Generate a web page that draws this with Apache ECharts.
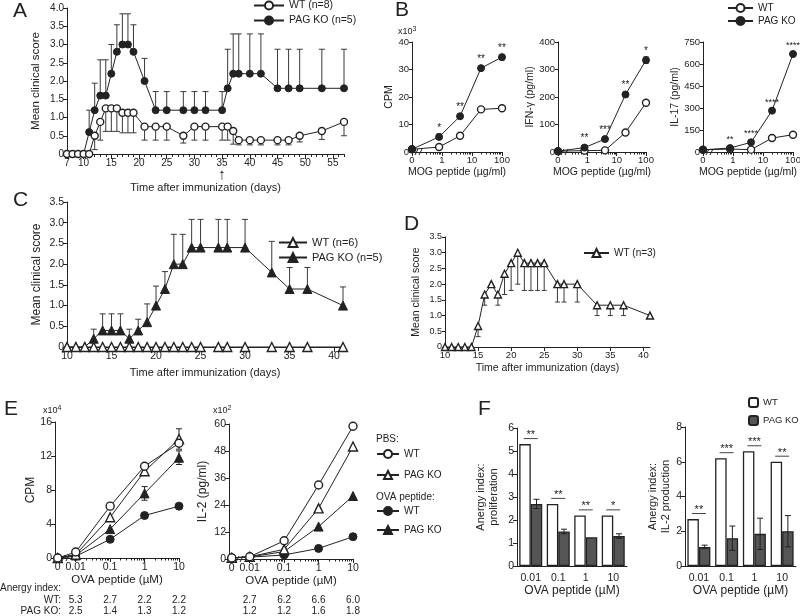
<!DOCTYPE html>
<html><head><meta charset="utf-8">
<script src="https://cdn.jsdelivr.net/npm/echarts@6/dist/echarts.min.js"></script>
<style>html,body{margin:0;padding:0;background:#fff}#c{width:800px;height:616px}</style>
</head><body><div id="c"></div><script>
// ================= DATA =================
// Panel A – EAE clinical score
const aDays = [7,8,9,10,11,12,13,14,15,16,17,18,19,21,23,25,28,30,32,35,36,37,38,40,42,45,47,49,53,57];
const aWT     = [0,0,0,0,0,0.5,0.88,1.25,1.25,1.25,1.13,1.13,1.13,0.75,0.75,0.75,0.5,0.75,0.75,0.75,0.75,0.63,0.38,0.38,0.38,0.38,0.38,0.5,0.63,0.88];
const aWTLow  = [null,null,null,null,null,0.12,0.38,0.62,0.62,0.62,0.58,0.58,0.58,0.38,0.38,0.38,0.3,0.38,0.38,0.38,0.38,0.27,0.25,0.25,0.25,0.25,0.25,0.33,0.4,0.5];
const aKO     = [0,0,0,0,0.6,1.2,1.6,1.6,2.2,2.8,3.0,3.0,2.8,2.0,1.2,1.2,1.2,1.2,1.2,1.2,1.8,2.2,2.2,2.2,2.2,1.8,1.8,1.8,1.8,1.8];
const aKOHigh = [null,null,null,null,1.2,1.94,2.58,2.58,3.0,3.54,3.84,3.84,3.54,2.62,1.71,1.71,1.71,1.71,1.71,1.71,2.87,3.29,3.29,3.29,3.29,2.87,2.87,2.87,2.87,2.87];
const aTickLabels = [7,10,15,20,25,30,35,40,45,50,55];

// Panel B – recall responses to MOG peptide
const mogDose = [0, 0.8, 4, 20, 100];
const cpmWT = [1.0, 1.8, 5.9, 15.5, 15.9];
const cpmKO = [1.0, 5.5, 13.0, 30.5, 34.5];
const cpmKOSem = [0, 1.0, 0.5, 0.6, 1.0];
const cpmStars = ['', '*', '**', '**', '**'];
const ifnWT = [3, 5, 6, 71, 179];
const ifnKO = [3, 16, 47, 209, 334];
const ifnKOSem = [0, 3, 4, 6, 12];
const ifnStars = ['', '**', '***', '**', '*'];
const il17WT = [15, 20, 16, 95, 118];
const il17KO = [15, 27, 66, 282, 668];
const il17KOSem = [0, 4, 5, 8, 10];
const il17Stars = ['', '**', '****', '****', '****'];
const mogTickLabels = [0, 1, 10, 100];

// Panel C
const cDays = [10,11,12,13,14,15,16,17,18,19,20,21,22,23,24,25,27,28,30,33,35,37,41];
const cWT   = [0,0,0,0,0,0,0,0,0,0,0,0,0,0,0,0,0,0,0,0,0,0,0];
const cKO   = [0,0,0,0.2,0.4,0.4,0.4,0.2,0.4,0.6,1.0,1.4,2.0,2.0,2.4,2.4,2.4,2.4,2.4,1.8,1.4,1.4,1.0];
const cKOHigh = [null,null,null,0.43,0.8,0.8,0.8,0.43,0.67,1.04,1.47,1.82,2.72,2.72,3.08,3.08,3.08,3.08,3.08,2.55,1.92,1.92,1.45];
const cdTickLabels = [10,15,20,25,30,35,40];

// Panel D
const dDays = [10,11,12,13,14,15,16,17,18,19,20,21,22,23,24,25,27,28,30,33,35,37,41];
const dWT   = [0,0,0,0,0,0.67,1.67,2.0,1.67,2.33,2.67,3.0,2.67,2.67,2.67,2.67,2.0,2.0,2.0,1.33,1.33,1.33,1.0];
const dWTLow = [null,null,null,null,null,0.33,1.33,null,1.33,1.67,1.8,2.0,1.8,1.8,1.8,1.8,1.43,1.43,1.43,1.0,1.0,1.0,null];

// Panel E – OVA recall
const ovaDose = [0, 0.01, 0.1, 1, 10];
const eCpmPbsWT = [0, 0.7, 6.1, 10.8, 13.5];
const eCpmPbsKO = [0, 0.4, 4.8, 10.2, 14.0];
const eCpmOvaWT = [0, 0.2, 2.2, 5.0, 6.1];
const eCpmOvaKO = [0, 0.3, 3.4, 7.6, 11.8];
const eCpmPbsKOSem = [0, 0, 0, 0, 1.2];
const eCpmOvaKOSem = [0, 0, 0, 0.8, 0.8];
const eIl2PbsWT = [0.5, 1.0, 8.1, 32.9, 59.0];
const eIl2PbsKO = [0.5, 1.0, 4.3, 22.5, 50.0];
const eIl2OvaWT = [0.5, 0.8, 1.8, 4.7, 9.9];
const eIl2OvaKO = [0.5, 0.9, 3.3, 14.4, 28.0];
const ovaTickLabels = [0, 0.01, 0.1, 1, 10];
const anergyProlWT = [5.3, 2.7, 2.2, 2.2];
const anergyProlKO = [2.5, 1.4, 1.3, 1.2];
const anergyIl2WT  = [2.7, 6.2, 6.6, 6.0];
const anergyIl2KO  = [1.2, 1.2, 1.6, 1.8];

// Panel F – anergy indices
const fCats = ['0.01', '0.1', '1', '10'];
const fProlWT = [5.3, 2.7, 2.2, 2.2];
const fProlKO = [2.7, 1.5, 1.25, 1.3];
const fProlKOSem = [0.2, 0.1, 0, 0.1];
const fProlSig = ['**', '**', '**', '*'];
const fIl2WT = [2.7, 6.2, 6.6, 6.0];
const fIl2KO = [1.1, 1.6, 1.85, 2.0];
const fIl2KOSem = [0.1, 0.7, 0.9, 0.9];
const fIl2Sig = ['**', '***', '***', '**'];

// ================= STYLE / LAYOUT =================
const FONT = '"Liberation Sans", Arial, Helvetica, sans-serif';
const INK = '#222';
const ERR = '#3a3a3a';
const GRAYBAR = '#555';
const G = {
  A:  {left:67,  top:8,   width:277, height:146},
  B1: {left:412, top:42,  width:90,  height:110},
  B2: {left:558, top:42,  width:88,  height:110},
  B3: {left:703, top:42,  width:90,  height:110},
  C:  {left:67,  top:202, width:276, height:145},
  D:  {left:445, top:237, width:205, height:110},
  E1: {left:55,  top:422, width:124, height:136},
  E2: {left:229, top:424, width:124, height:135},
  F1: {left:517, top:428, width:110, height:138},
  F2: {left:685, top:427, width:111, height:139}
};
const B_ZERO = 0.1, E_ZERO = 0.003, E_MIN = 0.0025;
const LN = {aWT:'WT (n=8)', aKO:'PAG KO (n=5)', bWT:'WT', bKO:'PAG KO', cWT:'WT (n=6)', cKO:'PAG KO (n=5)',
  dWT:'WT (n=3)', ePbsWT:'WT', ePbsKO:'PAG KO', eOvaWT:'WT', eOvaKO:'PAG KO', fWT:'WT', fKO:'PAG KO'};

const option = {animation:false, backgroundColor:'#ffffff', textStyle:{fontFamily:FONT, color:INK},
  grid:[], xAxis:[], yAxis:[], series:[], legend:[], graphic:[]};

const AX = {show:true, onZero:false, lineStyle:{color:INK, width:1}};
const lbl = (fs, extra) => Object.assign({show:true, color:INK, fontFamily:FONT, fontSize:fs, margin:3, showMinLabel:true, showMaxLabel:true, hideOverlap:false}, extra || {});
const tick = (len, extra) => Object.assign({show:true, length:len, inside:false, lineStyle:{color:INK, width:1}}, extra || {});
const nst = (fs, extra) => Object.assign({color:INK, fontFamily:FONT, fontSize:fs}, extra || {});
const fmt1 = v => (Math.abs(v) < 1e-9 ? '0' : v.toFixed(1));
function addGrid(g) { option.grid.push(Object.assign({outerBoundsMode:'none', containLabel:false, show:false}, g)); return option.grid.length - 1; }
function addX(o) { option.xAxis.push(Object.assign({position:'bottom', offset:0, splitLine:{show:false}, splitArea:{show:false}}, o)); return option.xAxis.length - 1; }
function addY(o) { option.yAxis.push(Object.assign({position:'left', offset:0, splitLine:{show:false}, splitArea:{show:false}}, o)); return option.yAxis.length - 1; }

const openSym = {color:'#fff', borderColor:INK, borderWidth:1.4};
const fillSym = {color:INK, borderColor:INK, borderWidth:1};
function lineS(name, xi, yi, pts, symbol, size, filled, extra) {
  return Object.assign({type:'line', name, xAxisIndex:xi, yAxisIndex:yi, data:pts, symbol, symbolSize:size,
    showAllSymbol:true, lineStyle:{color:INK, width:1}, itemStyle: filled ? fillSym : openSym,
    emphasis:{disabled:true}, z:4}, extra || {});
}
// one-sided error bar: from value to end (cap at end)
function errOne(xi, yi, xs, ys, ends, cap, offsetPx) {
  const data = [];
  xs.forEach((x, i) => { if (ends[i] !== null && ends[i] !== undefined) data.push([x, ys[i], ends[i]]); });
  return {type:'custom', xAxisIndex:xi, yAxisIndex:yi, data, silent:true, z:2,
    renderItem: (p, api) => {
      const a = api.coord([api.value(0), api.value(1)]), b = api.coord([api.value(0), api.value(2)]);
      const ox = offsetPx || 0, st = {stroke:ERR, lineWidth:1};
      return {type:'group', children:[
        {type:'line', shape:{x1:a[0]+ox, y1:a[1], x2:b[0]+ox, y2:b[1]}, style:st},
        {type:'line', shape:{x1:b[0]+ox-cap, y1:b[1], x2:b[0]+ox+cap, y2:b[1]}, style:st}]};
    }};
}
// two-sided SEM bars
function errTwo(xi, yi, xs, ys, sem, cap, offsetPx, z) {
  const data = [];
  xs.forEach((x, i) => { if (sem[i] > 0) data.push([x, ys[i] - sem[i], ys[i] + sem[i]]); });
  return {type:'custom', xAxisIndex:xi, yAxisIndex:yi, data, silent:true, z: z || 2,
    renderItem: (p, api) => {
      const a = api.coord([api.value(0), api.value(1)]), b = api.coord([api.value(0), api.value(2)]);
      const ox = offsetPx || 0, st = {stroke:INK, lineWidth:1};
      return {type:'group', children:[
        {type:'line', shape:{x1:a[0]+ox, y1:a[1], x2:b[0]+ox, y2:b[1]}, style:st},
        {type:'line', shape:{x1:a[0]+ox-cap, y1:a[1], x2:a[0]+ox+cap, y2:a[1]}, style:st},
        {type:'line', shape:{x1:b[0]+ox-cap, y1:b[1], x2:b[0]+ox+cap, y2:b[1]}, style:st}]};
    }};
}
function legendV(data, left, top, gap, iw, ih, fs) {
  option.legend.push({data, left, top, orient:'vertical', itemGap:gap, itemWidth:iw, itemHeight:ih,
    formatter: n => LN[n], selectedMode:false, padding:0,
    textStyle:{color:INK, fontSize:fs, fontFamily:FONT}});
}
function gText(text, x, y, fs, align, extra) {
  option.graphic.push(Object.assign({type:'text', x, y, silent:true,
    style:{text, fontSize:fs, fontFamily:FONT, fill:INK, align:align || 'left', verticalAlign:'middle'}}, extra || {}));
}
function gRich(text, x, y, fs, sup) {
  option.graphic.push({type:'text', x, y, silent:true, style:{text, fontSize:fs, fontFamily:FONT, fill:INK, align:'left', verticalAlign:'middle',
    rich:{s:{fontSize:sup, fontFamily:FONT, fill:INK, padding:[0,0,5,0]}}}});
}
function breakMark(x, y) {
  const st = {stroke:INK, lineWidth:1};
  option.graphic.push({type:'group', x, y, silent:true, children:[
    {type:'rect', shape:{x:-3, y:-1, width:6, height:2}, style:{fill:'#fff'}},
    {type:'line', shape:{x1:-4, y1:3, x2:-1, y2:-3}, style:st},
    {type:'line', shape:{x1:0, y1:3, x2:3, y2:-3}, style:st}]});
}
const decadeMinor = (from, to) => { const r = []; for (let d = from; d < to; d *= 10) for (let k = 2; k <= 9; k++) r.push(+(k * d).toPrecision(3)); return r; };

// ================= PANEL A =================
{
  const g = addGrid(G.A);
  const x = addX({type:'value', gridIndex:g, min:7, max:57, axisLine:AX,
    axisTick:tick(5, {customValues:aTickLabels}),
    axisLabel:lbl(10, {customValues:aTickLabels, margin:4,
      formatter: v => (v === 35 ? '35\n{arr|↑}' : String(v)),
      rich:{arr:{fontSize:15, lineHeight:13, color:INK, fontFamily:FONT}}}),
    name:'Time after immunization (days)', nameLocation:'middle', nameGap:27, nameTextStyle:nst(11)});
  addX({type:'value', gridIndex:g, min:7, max:57, interval:1, axisLine:{show:false}, axisTick:tick(3), axisLabel:{show:false}});
  const y = addY({type:'value', gridIndex:g, min:0, max:4, interval:0.5, axisLine:AX, axisTick:tick(4),
    axisLabel:lbl(10, {formatter:fmt1}), name:'Mean clinical score', nameLocation:'middle', nameGap:25, nameRotate:90, nameTextStyle:nst(11.5)});
  option.series.push(errOne(x, y, aDays, aKO, aKOHigh, 3));
  option.series.push(errOne(x, y, aDays, aWT, aWTLow, 3));
  option.series.push(lineS('aKO', x, y, aDays.map((d, i) => [d, aKO[i]]), 'circle', 7, true));
  option.series.push(lineS('aWT', x, y, aDays.map((d, i) => [d, aWT[i]]), 'circle', 7, false, {z:5}));
  legendV(['aWT', 'aKO'], 253, 0, 4, 30, 10, 10.5);
}

// ================= PANEL B =================
const mogPos = mogDose.map(d => (d === 0 ? B_ZERO : d));
function bPanel(box, yMax, yInt, yName, yGap, wt, ko, sem, stars, starFs) {
  const g = addGrid(box);
  const x = addX({type:'log', gridIndex:g, logBase:10, min:B_ZERO, max:100, axisLine:AX,
    axisTick:tick(4, {customValues:mogTickLabels.map(v => (v === 0 ? B_ZERO : v))}),
    axisLabel:lbl(9.5, {customValues:mogTickLabels.map(v => (v === 0 ? B_ZERO : v)), margin:3, formatter: v => (v < 0.5 ? '0' : String(Math.round(v)))}),
    name:'MOG peptide (µg/ml)', nameLocation:'middle', nameGap:15, nameTextStyle:nst(10.5)});
  addX({type:'log', gridIndex:g, logBase:10, min:B_ZERO, max:100, axisLine:{show:false},
    axisTick:tick(2.5, {customValues:decadeMinor(0.1, 100).filter(v => v > 0.25)}), axisLabel:{show:false}});
  const y = addY({type:'value', gridIndex:g, min:0, max:yMax, interval:yInt, axisLine:AX, axisTick:tick(3),
    axisLabel:lbl(9.5), name:yName, nameLocation:'middle', nameGap:yGap, nameRotate:90, nameTextStyle:nst(10.5)});
  option.series.push(errTwo(x, y, mogPos, ko, sem, 2.5));
  option.series.push(lineS('bWT', x, y, mogPos.map((d, i) => [d, wt[i]]), 'circle', 7, false));
  option.series.push(lineS('bKO', x, y, mogPos.map((d, i) => ({value:[d, ko[i]],
    label:{show:!!stars[i], formatter:stars[i], position:'top', distance:0, color:INK, fontSize:starFs, fontFamily:FONT}})), 'circle', 7, true));
  breakMark(box.left + 7, box.top + box.height);
}
bPanel(G.B1, 40, 10, 'CPM', 16.5, cpmWT, cpmKO, cpmKOSem, cpmStars, 10);
bPanel(G.B2, 400, 100, 'IFN-γ (pg/ml)', 22, ifnWT, ifnKO, ifnKOSem, ifnStars, 10);
bPanel(G.B3, 750, 150, 'IL-17 (pg/ml)', 20, il17WT, il17KO, il17KOSem, il17Stars, 9);
legendV(['bWT', 'bKO'], 727, 3, 3, 25, 10, 10);
gRich('x10{s|3}', G.B1.left - 14, G.B1.top - 10, 9, 7);

// ================= PANEL C =================
{
  const g = addGrid(G.C);
  const x = addX({type:'value', gridIndex:g, min:10, max:41, axisLine:AX,
    axisTick:tick(5, {customValues:cdTickLabels}), axisLabel:lbl(10.5, {customValues:cdTickLabels, margin:4}),
    name:'Time after immunization (days)', nameLocation:'middle', nameGap:20, nameTextStyle:nst(11)});
  const y = addY({type:'value', gridIndex:g, min:0, max:3.5, interval:0.5, axisLine:AX, axisTick:tick(4),
    axisLabel:lbl(10.5, {formatter:fmt1}), name:'Mean clinical score', nameLocation:'middle', nameGap:24, nameRotate:90, nameTextStyle:nst(12)});
  option.series.push(errOne(x, y, cDays, cKO, cKOHigh, 3));
  option.series.push(lineS('cKO', x, y, cDays.map((d, i) => [d, cKO[i]]), 'triangle', 9, true));
  option.series.push(lineS('cWT', x, y, cDays.map((d, i) => [d, cWT[i]]), 'triangle', 9, false, {z:5}));
  legendV(['cWT', 'cKO'], 278, 237, 4, 28, 11, 11);
}

// ================= PANEL D =================
{
  const g = addGrid(G.D);
  const x = addX({type:'value', gridIndex:g, min:10, max:41, axisLine:AX,
    axisTick:tick(4, {customValues:cdTickLabels}), axisLabel:lbl(9.5, {customValues:cdTickLabels, margin:3}),
    name:'Time after immunization (days)', nameLocation:'middle', nameGap:16, nameTextStyle:nst(10.5)});
  const y = addY({type:'value', gridIndex:g, min:0, max:3.5, interval:0.5, axisLine:AX, axisTick:tick(3),
    axisLabel:lbl(9, {formatter:fmt1}), name:'Mean clinical score', nameLocation:'middle', nameGap:23, nameRotate:90, nameTextStyle:nst(10.5)});
  option.series.push(errOne(x, y, dDays, dWT, dWTLow, 2.5));
  option.series.push(lineS('dWT', x, y, dDays.map((d, i) => [d, dWT[i]]), 'triangle', 7, false));
  legendV(['dWT'], 583, 248, 4, 25, 10, 10);
}

// ================= PANEL E =================
const ovaPos = ovaDose.map(d => (d === 0 ? E_ZERO : d));
const ovaLabelPos = ovaTickLabels.map(d => (d === 0 ? E_ZERO : d));
function ePanel(box, yMax, yInt, yName, yGap, pW, pK, oW, oK, pKs, oKs, anWT, anKO, anMargin) {
  const g = addGrid(box);
  const x = addX({type:'log', gridIndex:g, logBase:10, min:E_MIN, max:10, axisLine:AX,
    axisTick:tick(4, {customValues:ovaLabelPos}),
    axisLabel:lbl(10.5, {customValues:ovaLabelPos, margin:4, formatter: v => (v < 0.005 ? '0' : String(+v.toPrecision(2)))}),
    name:'OVA peptide (µM)', nameLocation:'middle', nameGap:16, nameTextStyle:nst(11.5)});
  addX({type:'log', gridIndex:g, logBase:10, min:E_MIN, max:10, axisLine:{show:false},
    axisTick:tick(2.5, {customValues:decadeMinor(0.01, 10)}), axisLabel:{show:false}});
  addX({type:'log', gridIndex:g, logBase:10, min:E_MIN, max:10, axisLine:{show:false}, axisTick:{show:false},
    axisLabel:lbl(10, {customValues:[0.01, 0.1, 1, 10], margin:anMargin, lineHeight:11,
      formatter: v => { const i = Math.round(Math.log10(v)) + 2; return anWT[i].toFixed(1) + '\n' + anKO[i].toFixed(1); }})});
  const y = addY({type:'value', gridIndex:g, min:0, max:yMax, interval:yInt, axisLine:AX, axisTick:tick(4),
    axisLabel:lbl(10.5), name:yName, nameLocation:'middle', nameGap:yGap, nameRotate:90, nameTextStyle:nst(12)});
  option.series.push(errTwo(x, y, ovaPos, pK, pKs, 3));
  option.series.push(errTwo(x, y, ovaPos, oK, oKs, 3));
  const pts = arr => ovaPos.map((d, i) => [d, arr[i]]);
  option.series.push(lineS('eOvaWT', x, y, pts(oW), 'circle', 8, true));
  option.series.push(lineS('eOvaKO', x, y, pts(oK), 'triangle', 9, true));
  option.series.push(lineS('ePbsKO', x, y, pts(pK), 'triangle', 9, false, {z:5}));
  option.series.push(lineS('ePbsWT', x, y, pts(pW), 'circle', 8, false, {z:6}));
  breakMark(box.left + 11, box.top + box.height);
}
ePanel(G.E1, 16, 4, 'CPM', 13, eCpmPbsWT, eCpmPbsKO, eCpmOvaWT, eCpmOvaKO, eCpmPbsKOSem, eCpmOvaKOSem, anergyProlWT, anergyProlKO, 37);
ePanel(G.E2, 60, 12, 'IL-2 (pg/ml)', 20, eIl2PbsWT, eIl2PbsKO, eIl2OvaWT, eIl2OvaKO, [0,0,0,0,0], [0,0,0,0,0], anergyIl2WT, anergyIl2KO, 36);
gRich('x10{s|4}', G.E1.left - 12, G.E1.top - 11, 9, 7);
gRich('x10{s|2}', G.E2.left - 16, G.E2.top - 13, 9, 7);
gText('PBS:', 376, 439, 10);
gText('OVA peptide:', 376, 497, 10);
legendV(['ePbsWT', 'ePbsKO'], 376, 449, 11, 22, 10, 10);
legendV(['eOvaWT', 'eOvaKO'], 376, 506, 9, 22, 10, 10);
gText('Anergy index:', 0, 588, 10);
gText('WT:', 61, 600, 10, 'right');
gText('PAG KO:', 61, 611, 10, 'right');

// ================= PANEL F =================
const BW = 11.5;
function fPanel(box, yMax, yInt, yName, yGap, wt, ko, sem, sig) {
  const g = addGrid(box);
  const x = addX({type:'category', gridIndex:g, data:fCats, axisLine:AX, axisTick:{show:false},
    axisLabel:lbl(10.5, {margin:7, interval:0}), name:'OVA peptide (µM)', nameLocation:'middle', nameGap:19, nameTextStyle:nst(12)});
  const y = addY({type:'value', gridIndex:g, min:0, max:yMax, interval:yInt, axisLine:AX, axisTick:tick(4),
    axisLabel:lbl(10.5), name:yName, nameLocation:'middle', nameGap:yGap, nameRotate:90, nameTextStyle:nst(11, {lineHeight:13})});
  option.series.push({type:'bar', name:'fWT', xAxisIndex:x, yAxisIndex:y, data:wt, barWidth:BW, barGap:'0%',
    itemStyle:{color:'#fff', borderColor:INK, borderWidth:1.3}, emphasis:{disabled:true}});
  option.series.push({type:'bar', name:'fKO', xAxisIndex:x, yAxisIndex:y, data:ko, barWidth:BW, barGap:'0%',
    itemStyle:{color:GRAYBAR, borderColor:INK, borderWidth:1.3}, emphasis:{disabled:true}});
  option.series.push(errTwo(x, y, [0, 1, 2, 3], ko, sem, 3, BW / 2, 5));
  const sigData = wt.map((w, i) => [i, Math.max(w, ko[i] + sem[i]) + yMax * 0.04]);
  option.series.push({type:'custom', xAxisIndex:x, yAxisIndex:y, data:sigData, silent:true, z:6,
    renderItem: (p, api) => {
      const c = api.coord([api.value(0), api.value(1)]);
      return {type:'group', children:[
        {type:'line', shape:{x1:c[0]-7, y1:c[1], x2:c[0]+7, y2:c[1]}, style:{stroke:'#444', lineWidth:1}},
        {type:'text', x:c[0], y:c[1]+2, style:{text:sig[p.dataIndex], align:'center', verticalAlign:'bottom', fontSize:11, fontFamily:FONT, fill:INK}}]};
    }});
}
fPanel(G.F1, 6, 1, 'Anergy index:\nproliferation', 17, fProlWT, fProlKO, fProlKOSem, fProlSig);
fPanel(G.F2, 8, 2, 'Anergy index:\nIL-2 production', 12, fIl2WT, fIl2KO, fIl2KOSem, fIl2Sig);
legendV(['fWT', 'fKO'], 748, 397, 7, 9, 9, 9.5);

// ================= PANEL LETTERS =================
gText('A', 13, 11, 21);
gText('B', 395, 10, 21);
gText('C', 13, 200, 21);
gText('D', 404, 224, 21);
gText('E', 4, 409, 21);
gText('F', 478, 409, 21);

const chart = echarts.init(document.getElementById('c'), null, {renderer:'canvas'});
chart.setOption(option);
</script></body></html>
